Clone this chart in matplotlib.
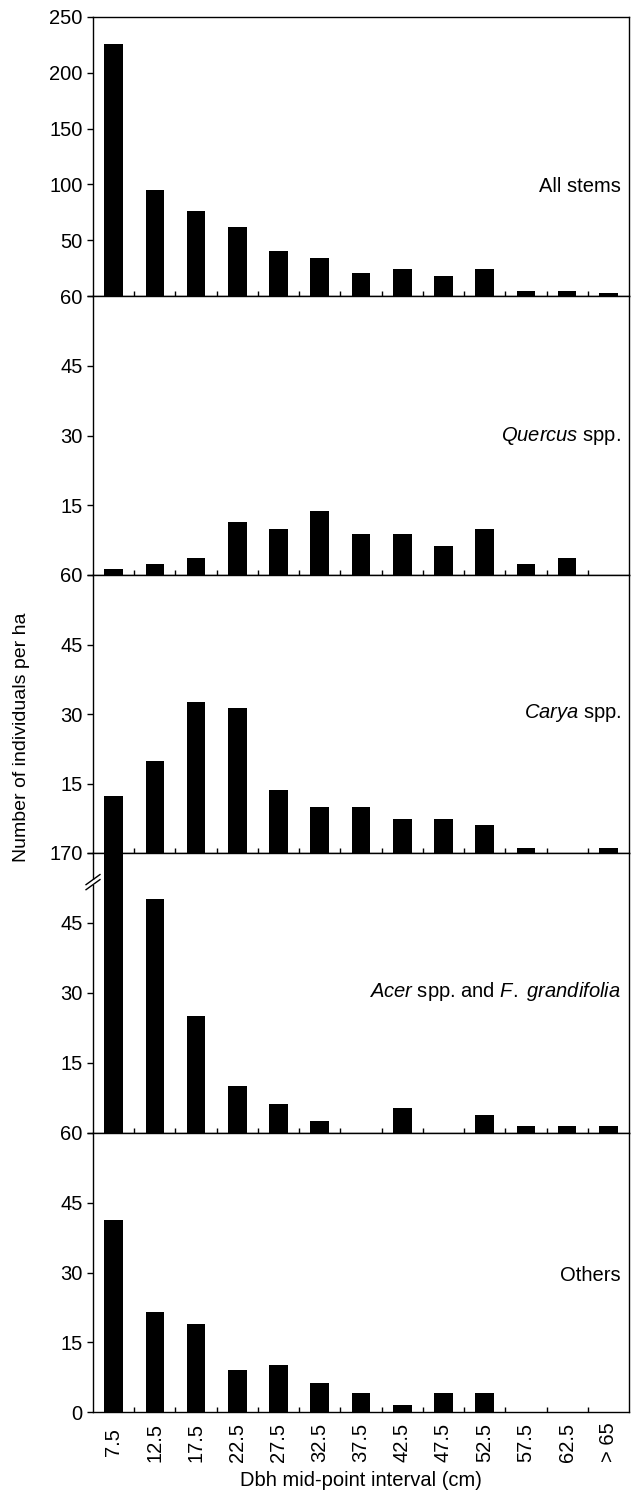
import numpy as np
import matplotlib
matplotlib.use('Agg')
import matplotlib.pyplot as plt

plt.rcParams['font.family'] = ['Liberation Sans', 'DejaVu Sans']
plt.rcParams['mathtext.fontset'] = 'custom'
plt.rcParams['mathtext.rm'] = 'Liberation Sans'
plt.rcParams['mathtext.it'] = 'Liberation Sans:italic'

# -------------------------------------------------------------------------
# data
# -------------------------------------------------------------------------
CLASSES = ['7.5', '12.5', '17.5', '22.5', '27.5', '32.5', '37.5',
           '42.5', '47.5', '52.5', '57.5', '62.5', '> 65']

ALL_STEMS = [226, 95, 76, 62, 40, 34, 21, 24, 18, 24, 4.5, 4.5, 2.5]
QUERCUS = [1.3, 2.4, 3.7, 11.4, 9.9, 13.8, 8.8, 8.8, 6.2, 9.9, 2.4, 3.7, 0]
CARYA = [12.3, 19.8, 32.5, 31.2, 13.5, 9.9, 9.9, 7.3, 7.3, 6.0, 1.1, 0, 1.1]
ACER = [170, 50.1, 25.0, 10.0, 6.2, 2.5, 0, 5.4, 0, 3.9, 1.4, 1.4, 1.4]
OTHERS = [41.3, 21.4, 18.9, 9.0, 10.1, 6.3, 4.0, 1.5, 4.0, 4.0, 0, 0, 0]

PANELS = [
    (ALL_STEMS, 'All stems', 250, [0, 50, 100, 150, 200, 250],
     ['', '50', '100', '150', '200', '250'], 0.394),
    (QUERCUS, r'$\it{Quercus}$ spp.', 60, [0, 15, 30, 45, 60],
     ['', '15', '30', '45', '60'], 0.498),
    (CARYA, r'$\it{Carya}$ spp.', 60, [0, 15, 30, 45, 60],
     ['', '15', '30', '45', '60'], 0.502),
    (ACER, r'$\it{Acer}$ spp. and $\it{F.}$ $\it{grandifolia}$', 60, [0, 15, 30, 45, 60],
     ['', '15', '30', '45', '170'], 0.505),
    (OTHERS, 'Others', 60, [0, 15, 30, 45, 60],
     ['0', '15', '30', '45', '60'], 0.491),
]

W, H = 641, 1494
LEFT, RIGHT = 93, 629
TOPS = [17, 296, 575, 853, 1133, 1412]

fig = plt.figure(figsize=(W / 100, H / 100), dpi=100)
x = np.arange(len(CLASSES))

axes = []
for i, (vals, label, ymax, yticks, ylabels, ty) in enumerate(PANELS):
    top, bot = TOPS[i], TOPS[i + 1]
    ax = fig.add_axes([LEFT / W, 1 - bot / H, (RIGHT - LEFT) / W, (bot - top) / H])
    ax.bar(x, vals, width=0.45, color='black')
    ax.set_xlim(-0.5, len(CLASSES) - 0.5)
    ax.set_ylim(0, ymax)
    ax.set_yticks(yticks)
    ax.set_yticklabels(ylabels)
    ax.tick_params(axis='y', direction='out', length=4.5, width=1.0,
                   labelsize=14.5, pad=3)
    # ticks at the class boundaries, pointing in
    ax.set_xticks(x[:-1] + 0.5, minor=True)
    ax.tick_params(axis='x', which='minor', direction='in', length=3.5, width=1.0)
    ax.set_xticks(x)
    if i == len(PANELS) - 1:
        ax.set_xticklabels(CLASSES, rotation=90, va='center')
        ax.tick_params(axis='x', which='major', length=0, labelsize=14.5, pad=22)
    else:
        ax.set_xticklabels([])
        ax.tick_params(axis='x', which='major', length=0)
    for sp in ax.spines.values():
        sp.set_linewidth(1.0)
    ax.text(0.985, ty, label, transform=ax.transAxes, ha='right', va='center',
            fontsize=14.5)
    axes.append(ax)

# axis break on the Acer panel
ax = axes[3]
yb = 0.896
dx, rise, gap = 0.013, 0.036, 0.018
ax.add_patch(plt.Rectangle((-0.004, yb - gap / 2), 0.008, gap, transform=ax.transAxes,
                           facecolor='white', edgecolor='none', clip_on=False,
                           zorder=5))
for y0 in (yb - gap / 2, yb + gap / 2):
    ax.plot([-dx, dx], [y0 - rise / 2, y0 + rise / 2], transform=ax.transAxes,
            color='black', lw=1.0, clip_on=False, zorder=6)

fig.text(22 / W, 1 - 737 / H, 'Number of individuals per ha', rotation=90,
         ha='center', va='center', fontsize=14)
fig.text((LEFT + RIGHT) / 2 / W, 1 - 1481 / H, 'Dbh mid-point interval (cm)',
         ha='center', va='center', fontsize=14.5)

fig.savefig('out.png', dpi=100)
